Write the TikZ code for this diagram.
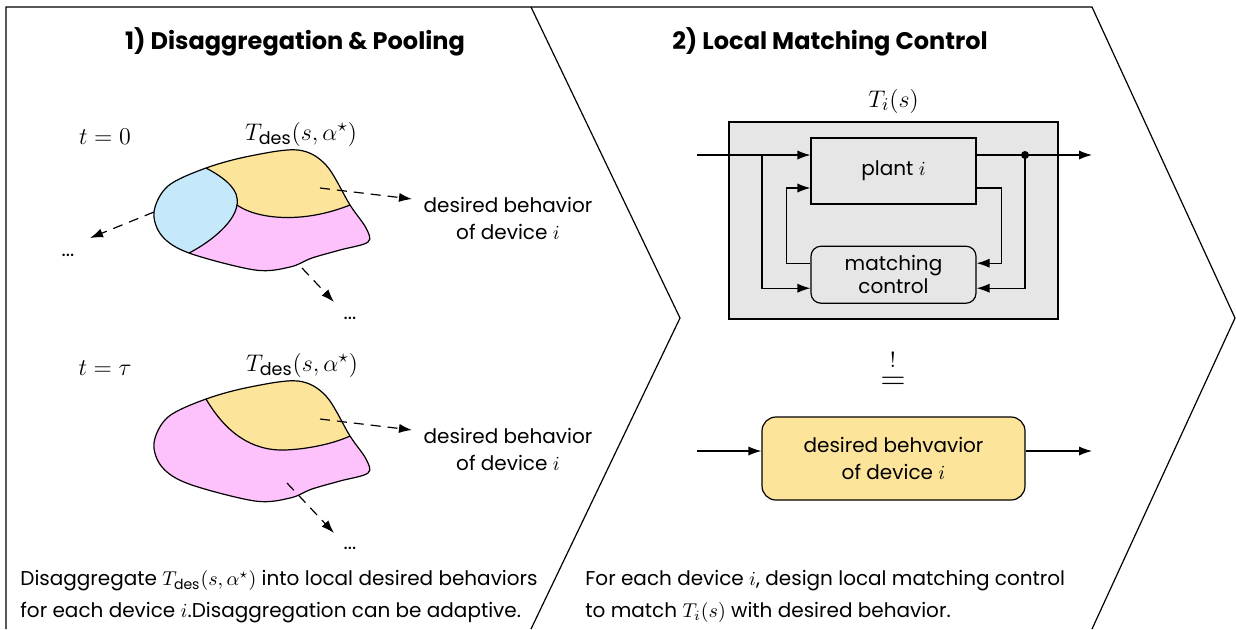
\documentclass[tikz,border=0pt]{standalone}
\usepackage{amsmath,amssymb}
\usepackage{fontspec}
\setmainfont{Poppins}
\usetikzlibrary{positioning,arrows.meta}

\definecolor{desyellow}{HTML}{FDE49B}
\definecolor{devblue}{HTML}{C5E8FA}
\definecolor{devpink}{HTML}{FDC1FC}
\definecolor{sysgray}{HTML}{E6E6E6}

\newcommand{\Tdes}{T_{\text{des}}(s,\alpha^{\star})}
% outline of the aggregated behaviour
\newcommand{\blobpath}{plot[smooth cycle, tension=0.55] coordinates {(154,212) (168,186) (206,168) (250,156) (298,150) (326,165) (350,205) (366,228) (368,242) (340,250) (312,258) (290,267) (255,270) (189,253) (162,236)}}

\tikzset{
  frame/.style={line width=0.6pt, line join=miter},
  title/.style={font=\bfseries\fontsize{12}{14}\selectfont},
  mathlbl/.style={font=\fontsize{12.5}{15}\selectfont},
  lbl/.style={font=\fontsize{10}{13.5}\selectfont, align=center},
  note/.style={font=\fontsize{10}{16}\selectfont, align=left, anchor=north west, inner sep=0pt},
  region/.style={draw, line width=0.6pt},
  dasharrow/.style={-{Latex[length=6.5pt,width=4.6pt]}, line width=0.6pt, dash pattern=on 5pt off 3.5pt},
  sig/.style={-{Latex[length=6.5pt,width=4.6pt]}, line width=0.6pt},
  block/.style={draw, line width=0.6pt, fill=sysgray, minimum width=82.5pt, align=center, font=\fontsize{10}{13.5}\selectfont},
}

\begin{document}
\begin{tikzpicture}[x=0.5pt,y=-0.5pt]
\useasboundingbox (0,0) rectangle (1236,629);

% panels
\draw[frame] (6,629) -- (6,7) -- (1092,7) -- (1235,318) -- (1092,629);
\draw[frame] (531,7) -- (680,318) -- (531,629);

\node[title] (titleA) at (295,42) {1) Disaggregation \& Pooling};
\node[title] (titleB) at (830,42) {2) Local Matching Control};

% t = 0
\node[mathlbl] (tA) at (105,137) {$t = 0$};
\node[mathlbl] (TA) at (301,134) {$\Tdes$};
\begin{scope}
  \begin{scope}
    \clip \blobpath;
    \fill[devpink] (100,100) rectangle (400,300);
    \fill[devblue] (206,168) -- (206,100) -- (100,100) -- (100,300) -- (189,300) -- (189,253)
      .. controls (205,245) and (234,225) .. (237,205)
      .. controls (240,190) and (225,178) .. (206,168);
    \fill[desyellow] (206,168) -- (206,100) -- (400,100) -- (400,205) -- (350,205)
      .. controls (300,225) and (255,218) .. (237,205)
      .. controls (240,190) and (225,178) .. (206,168);
  \end{scope}
  \draw[region] (206,168) .. controls (225,178) and (240,190) .. (237,205)
    .. controls (234,225) and (205,245) .. (189,253);
  \draw[region] (237,205) .. controls (255,218) and (300,225) .. (350,205);
  \draw[region] \blobpath;
\end{scope}
\coordinate (pA) at (320,188);
\coordinate (qA) at (412,199);
\coordinate (lA) at (154,212);
\coordinate (mA) at (90,238);
\coordinate (bA) at (302,268);
\coordinate (cA) at (334,302);
\draw[dasharrow] (pA) -- (qA);
\draw[dasharrow] (lA) -- (mA);
\draw[dasharrow] (bA) -- (cA);
\node[lbl, anchor=north] (descA) at (508,190) {desired behavior\\of device $i$};
\node[lbl] (dotsA) at (68,255) {...};
\node[lbl] (dotsB) at (350,318) {...};

% t = tau
\node[mathlbl] (tB) at (105,368) {$t = \tau$};
\node[mathlbl] (TB) at (302,365) {$\Tdes$};
\begin{scope}[shift={(0,231)}]
  \begin{scope}
    \clip \blobpath;
    \fill[devpink] (100,100) rectangle (400,300);
    \fill[desyellow] (206,168) -- (206,100) -- (400,100) -- (400,205) -- (350,205)
      .. controls (335,212) and (310,218) .. (285,219)
      .. controls (250,220) and (225,200) .. (206,168);
  \end{scope}
  \draw[region] (206,168) .. controls (225,200) and (250,220) .. (285,219)
    .. controls (310,218) and (335,212) .. (350,205);
  \draw[region] \blobpath;
\end{scope}
\coordinate (pB) at (320,419);
\coordinate (qB) at (412,430);
\coordinate (bB) at (287,483);
\coordinate (cB) at (334,533);
\draw[dasharrow] (pB) -- (qB);
\draw[dasharrow] (bB) -- (cB);
\node[lbl, anchor=north] (descB) at (508,421) {desired behavior\\of device $i$};
\node[lbl] (dotsC) at (350,548) {...};

\node[note] (noteA) at (20,570) {Disaggregate $\Tdes$ into local desired behaviors\\for each device $i$.Disaggregation can be adaptive.};

% local matching control
\node[draw, line width=0.6pt, fill=sysgray, minimum width=164.5pt, minimum height=98.5pt] (sys) at (893.5,220.5) {};
\node[mathlbl, above=0.5pt of sys] (Ti) {$T_i(s)$};
\node[block, minimum height=33pt] (plant) at (893.5,171) {plant $i$};
\node[block, minimum height=28.5pt, rounded corners=5pt, below=20.5pt of plant] (ctrl) {matching\\[-2pt]control};

\coordinate (inA) at (697,155);
\coordinate (brIn) at (762,155);
\coordinate (outA) at (1092,155);
\coordinate (brOut) at (1025,155);
\draw[sig] (inA) -- ([yshift=8pt]plant.west);
\draw[sig] (brIn) |- ([yshift=-6.75pt]ctrl.west);
\draw[sig] ([yshift=8pt]plant.east) -- (outA);
\fill (brOut) circle (2pt);
\draw[sig] (brOut) |- ([yshift=-6.75pt]ctrl.east);
\draw[sig] ([yshift=-8.5pt]plant.east) -- ++(12.5pt,0) |- ([yshift=5.75pt]ctrl.east);
\draw[sig] ([yshift=5.75pt]ctrl.west) -- ++(-12pt,0) |- ([yshift=-8.5pt]plant.west);

\node[font=\fontsize{11}{13}\selectfont, inner sep=0pt] (bang) at (893,360) {$!$};
\node[font=\fontsize{16}{18}\selectfont, inner sep=0pt] (eqsign) at (893,383) {$=$};

\node[block, fill=desyellow, rounded corners=7pt, minimum width=131.5pt, minimum height=41.5pt] (des) at (893.5,458.5) {desired behvavior\\of device $i$};
\coordinate (inB) at (697,451);
\coordinate (outB) at (1092,451);
\draw[sig] (inB) -- ([yshift=3.75pt]des.west);
\draw[sig] ([yshift=3.75pt]des.east) -- (outB);

\node[note] (noteB) at (585,570) {For each device $i$, design local matching control\\to match $T_i(s)$ with desired behavior.};
\end{tikzpicture}
\end{document}
